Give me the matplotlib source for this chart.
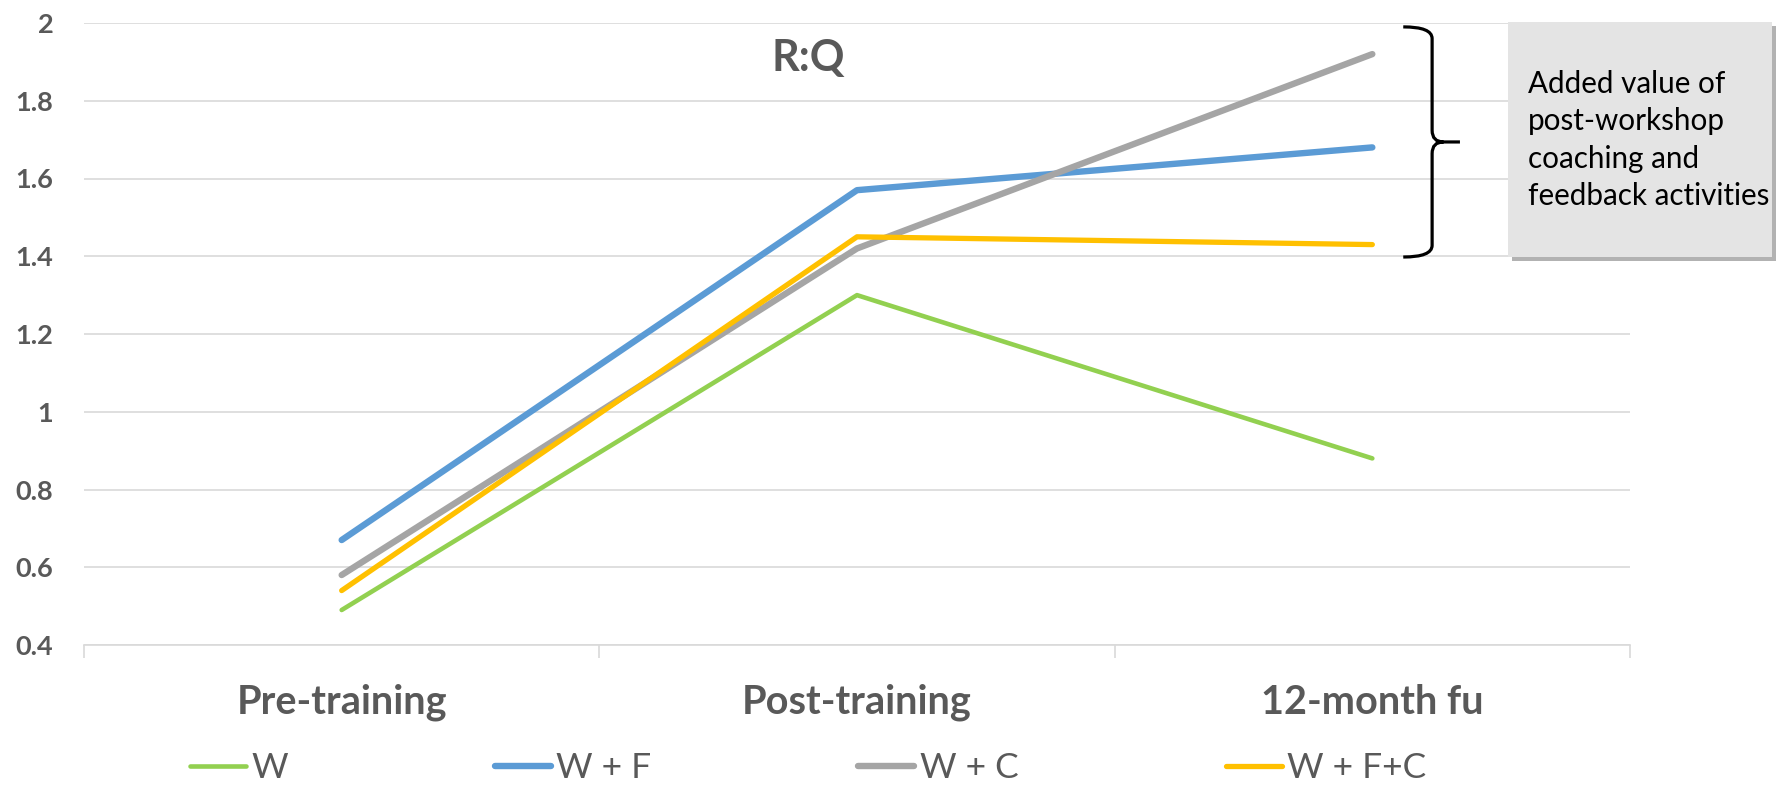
import matplotlib
matplotlib.use("Agg")
import matplotlib.pyplot as plt
import matplotlib.patheffects as pe
from matplotlib.path import Path
from matplotlib.patches import PathPatch, FancyBboxPatch
from matplotlib.ticker import FuncFormatter, FixedLocator

plt.rcParams['font.family'] = ['Lato', 'DejaVu Sans']

# R:Q ratio by time point and training condition
timepoints = ['Pre-training', 'Post-training', '12-month fu']
series_names = ['W', 'W + F', 'W + C', 'W + F+C']
w = [0.49, 1.30, 0.88]
w_f = [0.67, 1.57, 1.68]
w_c = [0.58, 1.42, 1.92]
w_fc = [0.54, 1.45, 1.43]

colors = ['#92D050', '#5B9BD5', '#A5A5A5', '#FFC000']
widths = [3.3, 4.6, 4.6, 3.8]
grey_text = '#595959'
grid_col = '#D9D9D9'

fig = plt.figure(figsize=(17.79, 7.85), dpi=100)
ax = fig.add_axes([84 / 1779, 1 - 645 / 785, (1630 - 84) / 1779, (645 - 23) / 785])

x = list(range(len(timepoints)))
handles = []
for vals, c, lw, name in zip([w, w_f, w_c, w_fc], colors, widths, series_names):
    ln, = ax.plot(x, vals, color=c, lw=lw, solid_capstyle='round',
                  solid_joinstyle='round', label=name)
    handles.append(ln)

ax.set_xlim(-0.5, 2.5)
ax.set_ylim(0.4, 2.0)
ax.set_yticks([0.4, 0.6, 0.8, 1.0, 1.2, 1.4, 1.6, 1.8, 2.0])
ax.yaxis.set_major_formatter(FuncFormatter(lambda v, p: '{:g}'.format(round(v, 1))))
ax.grid(axis='y', color=grid_col, lw=1.2)
ax.set_axisbelow(True)

for s in ['top', 'right', 'left']:
    ax.spines[s].set_visible(False)
ax.spines['bottom'].set_color(grid_col)
ax.spines['bottom'].set_linewidth(1.2)

ax.set_xticks(x)
ax.set_xticklabels(timepoints)
ax.xaxis.set_minor_locator(FixedLocator([-0.5, 0.5, 1.5, 2.5]))
ax.tick_params(axis='x', which='major', length=0, pad=28, labelsize=28.5,
               labelcolor=grey_text)
ax.tick_params(axis='x', which='minor', length=9.5, width=1.2, color=grid_col)
ax.tick_params(axis='y', length=0, pad=22, labelsize=19.5, labelcolor=grey_text)
for lab in ax.get_xticklabels() + ax.get_yticklabels():
    lab.set_fontweight('bold')

fig.text(808 / 1779, 1 - 71 / 785, 'R:Q', ha='center', va='baseline',
         fontsize=31, fontweight='bold', color=grey_text)

# curly brace marking the spread at 12 months
xl, xm, xt = 2.06, 2.116, 2.170
yt, ymid, yb = 1.99, 1.694, 1.398
rx, ry = 0.022, 0.03
verts = [(xl, yt), (xm, yt), (xm, yt - ry),
         (xm, ymid + ry),
         (xm, ymid), (xm + rx, ymid),
         (xt, ymid),
         (xm + rx, ymid), (xm, ymid), (xm, ymid - ry),
         (xm, yb + ry),
         (xm, yb), (xl, yb)]
codes = [Path.MOVETO, Path.CURVE3, Path.CURVE3,
         Path.LINETO,
         Path.CURVE3, Path.CURVE3,
         Path.LINETO,
         Path.MOVETO, Path.CURVE3, Path.CURVE3,
         Path.LINETO,
         Path.CURVE3, Path.CURVE3]
ax.add_patch(PathPatch(Path(verts, codes), fill=False, lw=2.3, color='black',
                       capstyle='butt', clip_on=False))

box = FancyBboxPatch((1508 / 1779, 1 - 257 / 785), 264 / 1779, 235 / 785,
                     boxstyle='square,pad=0', transform=fig.transFigure,
                     facecolor='#E4E4E4', edgecolor='none',
                     path_effects=[pe.SimplePatchShadow(offset=(3, -3), shadow_rgbFace='black', alpha=0.3),
                                   pe.Normal()])
fig.patches.append(box)
fig.text(1528 / 1779, 1 - 140 / 785,
         'Added value of\npost-workshop\ncoaching and\nfeedback activities',
         ha='left', va='center', fontsize=21.3, color='black', linespacing=1.4)

leg = fig.legend(handles=handles, loc='center', bbox_to_anchor=(808 / 1779, 1 - 768 / 785),
                 ncol=4, frameon=False, fontsize=25.5, handlelength=1.58,
                 handletextpad=0.15, columnspacing=5.85, labelcolor=grey_text,
                 borderpad=0.1)

fig.savefig('out.png', dpi=100)
